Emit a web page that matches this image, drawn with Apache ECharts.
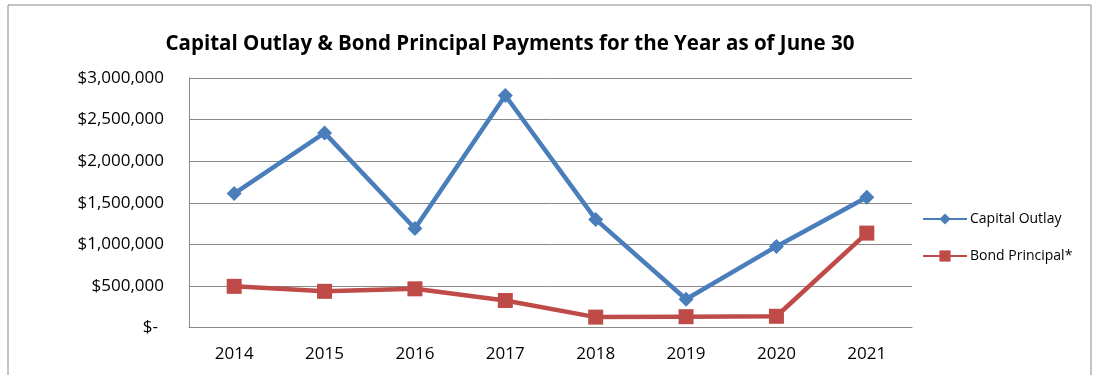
<!DOCTYPE html>
<html><head><meta charset="utf-8">
<script src="https://cdn.jsdelivr.net/npm/echarts@6/dist/echarts.min.js"></script>
<style>html,body{margin:0;padding:0;background:#fff}#c{width:1098px;height:375px}</style>
</head><body><div id="c"></div>
<script>
const years = ['2014','2015','2016','2017','2018','2019','2020','2021'];
const capitalOutlay = [1610000, 2340000, 1190000, 2790000, 1300000, 340000, 975000, 1565000];
const bondPrincipal = [495000, 435000, 465000, 325000, 125000, 130000, 135000, 1135000];

const chart = echarts.init(document.getElementById('c'));
const font = 'Open Sans, Noto Sans, sans-serif';
chart.setOption({
  animation: false,
  title: {
    text: 'Capital Outlay & Bond Principal Payments for the Year as of June 30',
    left: 505, top: 29, textAlign: 'center',
    textStyle: {fontFamily: font, fontWeight: 'bold', fontSize: 20.5, color: '#000'}
  },
  graphic: [{type: 'rect', shape: {x: 8, y: 5, width: 1083, height: 400}, style: {fill: 'none', stroke: '#888', lineWidth: 1}}],
  legend: {
    orient: 'vertical', left: 917, top: 207, itemGap: 23, itemWidth: 44, itemHeight: 14,
    textStyle: {fontFamily: font, fontSize: 14, color: '#000', padding: [0, 0, 0, -2]},
    data: ['Capital Outlay', 'Bond Principal*']
  },
  grid: {left: 189, right: 186, top: 78, bottom: 47.5},
  xAxis: {
    type: 'category', data: years, boundaryGap: true,
    axisLine: {lineStyle: {color: '#888'}}, axisTick: {show: false},
    axisLabel: {fontFamily: font, fontSize: 17, color: '#000', margin: 18}
  },
  yAxis: {
    type: 'value', min: 0, max: 3000000, interval: 500000,
    axisLine: {show: true, lineStyle: {color: '#888'}}, axisTick: {show: false},
    splitLine: {lineStyle: {color: '#888', width: 1}},
    axisLabel: {
      fontFamily: font, fontSize: 17, color: '#000', margin: 25,
      formatter: v => v === 0 ? '{z|$-}' : '$' + v.toLocaleString('en-US'),
      rich: {z: {fontFamily: font, fontSize: 17, color: '#000', padding: [0, 6, 0, 0]}}
    }
  },
  series: [
    {name: 'Capital Outlay', type: 'line', data: capitalOutlay, symbol: 'diamond', symbolSize: 15,
     lineStyle: {width: 4.5, color: '#4a7ebb'}, itemStyle: {color: '#4a7ebb'}},
    {name: 'Bond Principal*', type: 'line', data: bondPrincipal, symbol: 'rect', symbolSize: 15,
     lineStyle: {width: 4.5, color: '#be4b48'}, itemStyle: {color: '#be4b48'}}
  ]
});
</script></body></html>
